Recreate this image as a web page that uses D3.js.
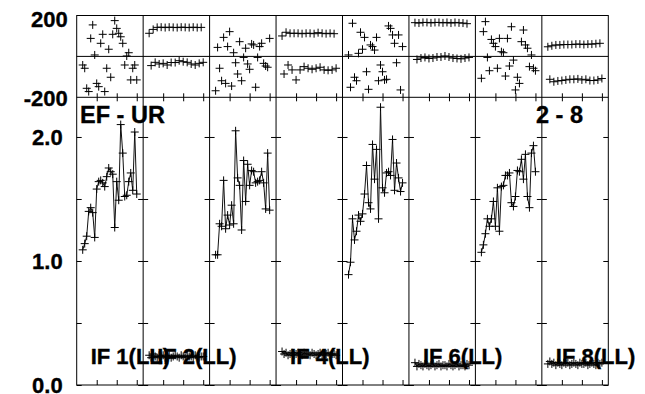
<!DOCTYPE html>
<html>
<head>
<meta charset="utf-8">
<script src="https://cdn.jsdelivr.net/npm/d3@7/dist/d3.min.js"></script>
<style>
    body { margin: 0; background: #fff; }
    text { font-family: "Liberation Sans", Arial, sans-serif; font-weight: bold; font-size: 22px; fill: #000; stroke: #000; stroke-width: 0.35px; }
    text.corner { font-size: 23.5px; }
</style>
</head>
<body>
<script>
// channel numbers along each IF sub-panel
const channels = [3, 4, 5, 6, 7, 8, 9, 10, 11, 12, 13, 14, 15, 16, 17, 18, 19, 20, 21, 22, 23, 24, 25, 26, 27, 28, 29, 30];
const ifLabels = ["IF 1(LL)", "IF 2(LL)", "", "IF 4(LL)", "", "IF 6(LL)", "", "IF 8(LL)"];
const phaseTicks = [-200, 200];
const ampTicks = [0, 0.5, 1, 1.5, 2];
const ampLabels = [0, 1, 2];
const chanTicks = [10, 20, 30];
const baselineLabel = "EF - UR";
const pageLabel = "2 - 8";

// amplitude per IF
const ampIF1 = [1.09, 1.14, 1.20, 1.40, 1.43, 1.39, 1.19, 1.58, 1.64, 1.65, 1.63, 1.60, 1.68, 1.75, 1.72, 1.70, 1.27, 1.64, 1.49, 2.10, 1.87, 1.52, 1.53, 1.64, 1.71, 1.57, 2.04, 1.54];
const ampIF2 = [0.24, 0.22, 0.25, 0.23, 0.22, 0.24, 0.23, 0.24, 0.22, 0.23, 0.24, 0.22, 0.23, 0.24, 0.23, 0.22, 0.24, 0.23, 0.22, 0.24, 0.23, 0.23, 0.22, 0.24, 0.23, 0.22, 0.23, 0.23];
const ampIF3 = [1.05, 1.05, 1.30, 1.28, 1.65, 1.26, 1.37, 1.29, 1.45, 1.30, 2.05, 1.67, 1.61, 1.25, 1.81, 1.48, 1.78, 1.61, 1.73, 1.72, 1.63, 1.64, 1.65, 1.72, 1.63, 1.42, 1.87, 1.41];
const ampIF4 = [0.27, 0.25, 0.26, 0.24, 0.25, 0.26, 0.24, 0.25, 0.26, 0.25, 0.24, 0.26, 0.25, 0.25, 0.24, 0.26, 0.25, 0.24, 0.25, 0.26, 0.24, 0.25, 0.25, 0.26, 0.24, 0.25, 0.25, 0.24];
const ampIF5 = [0.89, 0.99, 1.34, 1.17, 1.24, 1.37, 1.32, 1.38, 1.54, 1.77, 1.47, 1.42, 1.94, 1.66, 1.90, 1.34, 2.24, 1.59, 1.55, 1.71, 1.72, 1.69, 1.98, 1.57, 1.79, 1.67, 1.56, 1.63];
const ampIF6 = [0.18, 0.15, 0.17, 0.16, 0.15, 0.17, 0.16, 0.15, 0.16, 0.17, 0.15, 0.16, 0.17, 0.15, 0.16, 0.16, 0.15, 0.17, 0.16, 0.15, 0.16, 0.17, 0.15, 0.16, 0.16, 0.15, 0.17, 0.16];
const ampIF7 = [1.07, 1.13, 1.22, 1.34, 1.28, 1.34, 1.48, 1.28, 1.59, 1.24, 1.60, 1.61, 1.69, 1.69, 1.71, 1.47, 1.44, 1.52, 1.73, 1.72, 1.82, 1.66, 1.86, 1.52, 1.43, 1.87, 1.93, 1.72];
const ampIF8 = [0.17, 0.19, 0.17, 0.18, 0.16, 0.18, 0.17, 0.16, 0.18, 0.17, 0.18, 0.16, 0.17, 0.18, 0.17, 0.16, 0.18, 0.17, 0.17, 0.18, 0.16, 0.17, 0.18, 0.17, 0.16, 0.18, 0.17, 0.18];

// phase per IF (degrees)
const phaseIF1 = [-42, -58, -156, -172, 88, 154, 7, -132, -148, 64, 108, -172, -58, 35, -102, 108, 175, 137, 113, 96, 64, -42, 2, 18, -115, -58, -42, -115];
const phaseIF2 = [113, -45, 132, -29, 142, -37, 143, -34, 141, -42, 143, -30, 142, -30, 141, -21, 143, -26, 142, -29, 141, -37, 143, -42, 141, -34, 142, -29];
const phaseIF3 = [-168, 44, -58, -119, 93, -132, 48, 121, -145, 18, -31, -86, 72, -119, -5, 40, -37, -63, 61, 56, -151, -5, 48, 64, -34, -47, -53, 88];
const phaseIF4 = [100, -86, 118, -42, 113, -66, 113, -115, 113, -66, 111, -50, 113, -58, 113, -63, 111, -58, 116, -53, 113, -66, 111, -68, 113, -66, 111, -58];
const phaseIF5 = [7, -151, 162, -102, -119, 15, 118, 35, 93, -75, -161, 56, 48, 31, 93, -119, -42, -75, -115, -112, 149, 137, 105, 64, -31, 105, -164, 48];
const phaseIF6 = [165, -15, 163, -8, 166, -5, 166, -10, 164, -8, 166, -3, 166, -3, 164, 2, 166, -3, 163, -8, 166, -10, 164, -12, 163, -8, 160, -5];
const phaseIF7 = [-107, 121, 170, -5, -70, 83, 64, 48, -58, 88, 23, 18, -96, 88, -47, 145, -18, -164, -102, -132, 72, 129, 56, 40, -50, 7, -58, -70];
const phaseIF8 = [47, -112, 52, -124, 56, -120, 56, -118, 58, -115, 58, -112, 58, -112, 60, -110, 60, -115, 58, -112, 60, -118, 60, -118, 62, -115, 64, -108];

const amps = [ampIF1, ampIF2, ampIF3, ampIF4, ampIF5, ampIF6, ampIF7, ampIF8];
const phases = [phaseIF1, phaseIF2, phaseIF3, phaseIF4, phaseIF5, phaseIF6, phaseIF7, phaseIF8];

class MatrixGraf {
    constructor(opts) {
        this.w = opts.width;
        this.h = opts.height;
        this.box = opts.box;
        this.nCol = amps.length;
        this.colW = (this.box.right - this.box.left) / this.nCol;
        this.scalePhase = d3.scaleLinear().domain([-200, 200]).range([this.box.mid, this.box.top]);
        this.scaleAmp = d3.scaleLinear().domain([0, 2.32]).range([this.box.bottom, this.box.mid]);
        this.cross = "M-4,0H4M0,-4V4";
    }

    draw(trg) {
        this.svg = d3.select(trg).append("svg")
            .attr("width", this.w)
            .attr("height", this.h);
        for (var i = 0; i < this.nCol; i++) this.addColumn(i);
        this.addFrame();
        this.addLabels();
    }

    colScale(i) {
        var x0 = this.box.left + i * this.colW;
        return d3.scaleLinear().domain([0, 33.2]).range([x0, x0 + this.colW]);
    }

    addColumn(i) {
        var b = this.box;
        var x = this.colScale(i);
        var g = this.svg.append("g").attr("class", "if" + (i + 1));

        // channel ticks
        var ax = [
            [d3.axisTop(x), b.bottom, 5],
            [d3.axisTop(x), b.mid, 4],
            [d3.axisBottom(x), b.mid, 4]
        ];
        ax.forEach((a) => {
            g.append("g")
                .attr("transform", "translate(0," + a[1] + ")")
                .call(a[0].tickValues(chanTicks).tickSize(a[2]).tickFormat(""))
                .call((s) => s.select(".domain").remove());
        });

        // amplitude ticks on both sides of the sub-panel
        g.append("g")
            .attr("transform", "translate(" + x(0) + ",0)")
            .call(d3.axisRight(this.scaleAmp).tickValues(ampTicks).tickSize(5).tickFormat(""))
            .call((s) => s.select(".domain").remove());
        g.append("g")
            .attr("transform", "translate(" + x.range()[1] + ",0)")
            .call(d3.axisLeft(this.scaleAmp).tickValues(ampTicks).tickSize(5).tickFormat(""))
            .call((s) => s.select(".domain").remove());
        g.selectAll(".tick line").attr("stroke", "#000");

        // phase points
        g.append("g").selectAll("path")
            .data(phases[i])
            .enter()
            .append("path")
            .attr("d", this.cross)
            .attr("transform", (d, k) => "translate(" + x(channels[k]) + "," + this.scalePhase(d) + ")")
            .attr("stroke", "#000")
            .attr("stroke-width", 1)
            .attr("fill", "none");

        // amplitude line + points
        var line = d3.line()
            .x((d, k) => x(channels[k]))
            .y((d) => this.scaleAmp(d));
        g.append("path")
            .datum(amps[i])
            .attr("d", line)
            .attr("fill", "none")
            .attr("stroke", "#111")
            .attr("stroke-width", 1);
        g.append("g").selectAll("path")
            .data(amps[i])
            .enter()
            .append("path")
            .attr("d", this.cross)
            .attr("transform", (d, k) => "translate(" + x(channels[k]) + "," + this.scaleAmp(d) + ")")
            .attr("stroke", "#000")
            .attr("stroke-width", 1)
            .attr("fill", "none");

        if (ifLabels[i]) {
            g.append("text")
                .attr("x", x(0) + 14)
                .attr("y", 364)
                .text(ifLabels[i]);
        }
    }

    addFrame() {
        var b = this.box;
        var f = this.svg.append("g").attr("stroke", "#000").attr("stroke-width", 1).attr("fill", "none");
        f.append("rect")
            .attr("x", b.left).attr("y", b.top)
            .attr("width", b.right - b.left).attr("height", b.bottom - b.top);
        [b.mid, this.scalePhase(0)].forEach((y) => {
            f.append("line").attr("x1", b.left).attr("x2", b.right).attr("y1", y).attr("y2", y);
        });
        for (var i = 1; i < this.nCol; i++) {
            var xx = b.left + i * this.colW;
            f.append("line").attr("x1", xx).attr("x2", xx).attr("y1", b.top).attr("y2", b.bottom);
        }
    }

    addLabels() {
        var b = this.box;
        this.svg.append("g")
            .attr("transform", "translate(" + b.left + ",0)")
            .call(d3.axisLeft(this.scaleAmp).tickValues(ampLabels).tickSize(0).tickPadding(14).tickFormat(d3.format(".1f")))
            .call((s) => s.select(".domain").remove())
            .selectAll("text").attr("fill", "#000").attr("dy", "0.36em");
        this.svg.append("g")
            .attr("transform", "translate(" + b.left + ",0)")
            .call(d3.axisLeft(this.scalePhase).tickValues(phaseTicks).tickSize(0).tickPadding(9).tickFormat((d) => String(d)))
            .call((s) => s.select(".domain").remove())
            .selectAll("text").attr("fill", "#000").attr("dy", (d) => d > 0 ? "0.48em" : "0.36em");
        this.svg.selectAll(".tick text")
            .style("font-family", '"Liberation Sans", Arial, sans-serif')
            .style("font-weight", "bold")
            .style("font-size", "22px");

        this.svg.append("text").attr("class", "corner").attr("x", 80).attr("y", 123).text(baselineLabel);
        this.svg.append("text").attr("class", "corner").attr("x", 583).attr("y", 123).attr("text-anchor", "end").text(pageLabel);
    }
}

var graf = new MatrixGraf({
    width: 645,
    height: 394,
    box: { left: 76.7, right: 608.3, top: 15.5, mid: 97.3, bottom: 385 }
});
graf.draw("body");
</script>
</body>
</html>
